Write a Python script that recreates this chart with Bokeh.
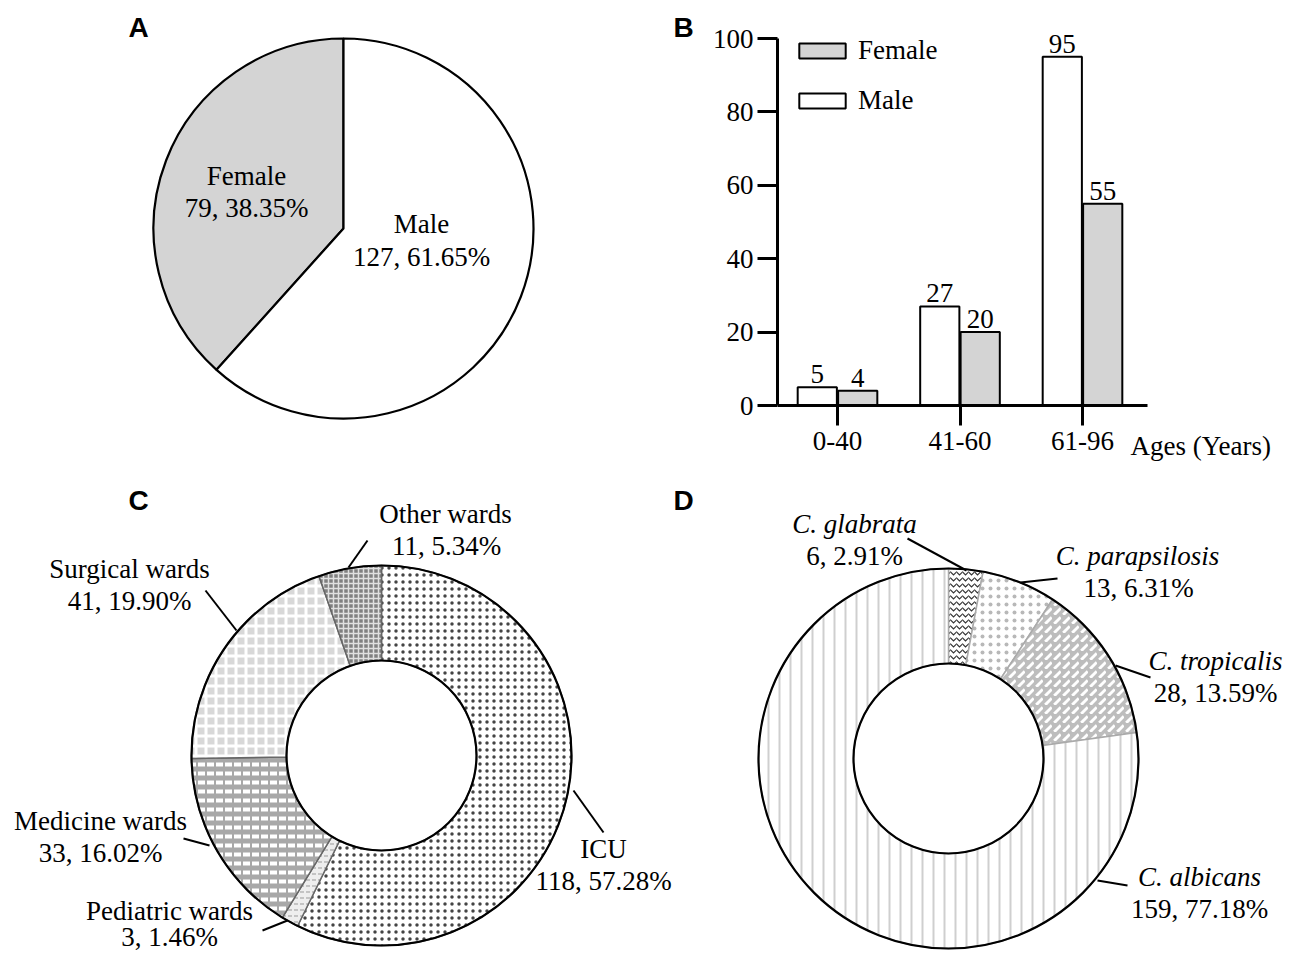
import numpy as np
from bokeh.plotting import figure
from bokeh.models import Range1d, Label, Legend, LegendItem, FixedTicker
from bokeh.layouts import column, row
from bokeh.embed import file_html
from bokeh.resources import INLINE
from bokeh.core.properties import value

# ---------------- data ----------------
sex_labels = ["Female", "Male"]
sex_counts = [79, 127]
sex_pcts = ["38.35%", "61.65%"]

age_groups = ["0-40", "41-60", "61-96"]
male_by_age = [5, 27, 95]
female_by_age = [4, 20, 55]

wards = ["ICU", "Pediatric wards", "Medicine wards", "Surgical wards", "Other wards"]
ward_counts = [118, 3, 33, 41, 11]
ward_pcts = ["57.28%", "1.46%", "16.02%", "19.90%", "5.34%"]

species = ["C. glabrata", "C. parapsilosis", "C. tropicalis", "C. albicans"]
species_counts = [6, 13, 28, 159]
species_pcts = ["2.91%", "6.31%", "13.59%", "77.18%"]

# ---------------- style ----------------
SERIF_NAME = "Liberation Serif"
SANS_NAME = "Liberation Sans"
SERIF = value(SERIF_NAME)
FS = "27px"
LETTER_FS = "28px"

TOP_H, BOT_H = 480, 470
A_W, B_W = 700, 590
C_W, D_W = 674, 616


def panel(ox, oy, W, H):
    p = figure(width=W, height=H, x_range=Range1d(0, W), y_range=Range1d(0, H),
               x_axis_type=None, y_axis_type=None, output_backend="svg",
               toolbar_location=None, min_border=0)
    p.outline_line_color = None
    p.background_fill_color = "white"
    p.border_fill_color = "white"

    def tr(rx, ry):
        return rx - ox, H - (ry - oy)
    return p, tr


def add_texts(p, tr, names, vals, name_pos, val_pos, italic=False):
    nx, ny = zip(*[tr(*q) for q in name_pos])
    vx, vy = zip(*[tr(*q) for q in val_pos])
    p.text(x=list(nx), y=list(ny), text=names, text_font=SERIF, text_font_size=FS,
           text_font_style="italic" if italic else "normal",
           text_align="center", text_baseline="middle", text_color="black")
    p.text(x=list(vx), y=list(vy), text=vals, text_font=SERIF, text_font_size=FS,
           text_align="center", text_baseline="middle", text_color="black")


def add_letter(p, tr, letter, pos):
    x, y = tr(*pos)
    p.add_layout(Label(x=x, y=y, text=letter, text_font=SANS_NAME, text_font_size=LETTER_FS,
                       text_font_style="bold", text_align="center", text_baseline="middle",
                       text_color="black"))


# ---------------- Panel A : pie ----------------
pA, trA = panel(0, 0, A_W, TOP_H)
cxA, cyA = trA(343, 228)
fr = np.array(sex_counts) / np.sum(sex_counts)
cum = np.concatenate([[0], np.cumsum(fr)])
startA = np.pi / 2 + 2 * np.pi * cum[:-1]
endA = np.pi / 2 + 2 * np.pi * cum[1:]
pA.wedge(x=cxA, y=cyA, radius=190, start_angle=startA, end_angle=endA,
         direction="anticlock", fill_color=["#d4d4d4", "white"],
         line_color="black", line_width=2.2)
add_texts(pA, trA, sex_labels, [f"{c}, {q}" for c, q in zip(sex_counts, sex_pcts)],
          [(246, 175), (421, 223)], [(246, 207), (421, 256)])
add_letter(pA, trA, "A", (138, 27))
add_letter(pA, trA, "B", (683, 27))

# ---------------- Panel B : bars ----------------
B_OX = A_W
FRAME_L = 777                       # layout: page x of the y axis
x0_px, unit_px = 837.0, 122.5       # layout: page x of category 0, pixels per category
y0_px, yunit_px = 405.0, 3.67       # layout: page y of value 0, pixels per unit


def bx(rx):
    return (rx - x0_px) / unit_px


def by(ry):
    return (y0_px - ry) / yunit_px


pB = figure(width=B_W, height=TOP_H,
            x_range=Range1d(bx(FRAME_L), bx(B_OX + B_W)),
            y_range=Range1d(by(TOP_H), by(0)),
            output_backend="svg", toolbar_location=None,
            min_border_left=FRAME_L - B_OX, min_border_right=0, min_border_top=0,
            min_border_bottom=0)
pB.outline_line_color = None
pB.grid.visible = False
pB.background_fill_color = "white"
pB.border_fill_color = "white"

idx = np.arange(len(age_groups))
rm = pB.vbar(x=idx - 0.165, top=male_by_age, width=0.32, fill_color="white",
             line_color="black", line_width=2)
rf = pB.vbar(x=idx + 0.165, top=female_by_age, width=0.32, fill_color="#d4d4d4",
             line_color="black", line_width=2)
pB.text(x=idx - 0.165, y=male_by_age, text=[str(v) for v in male_by_age], text_font=SERIF,
        text_font_size=FS, text_align="center", text_baseline="bottom", y_offset=-4,
        text_color="black")
pB.text(x=idx + 0.165, y=female_by_age, text=[str(v) for v in female_by_age], text_font=SERIF,
        text_font_size=FS, text_align="center", text_baseline="bottom", y_offset=-4,
        text_color="black")

pB.xaxis.ticker = FixedTicker(ticks=list(idx))
pB.xaxis.major_label_overrides = {int(i): g for i, g in zip(idx, age_groups)}
pB.xaxis.fixed_location = 0
pB.xaxis.bounds = (bx(FRAME_L), bx(1147))
pB.yaxis.ticker = FixedTicker(ticks=[0, 20, 40, 60, 80, 100])
pB.yaxis.bounds = (0, 100)
for ax in (pB.xaxis, pB.yaxis):
    ax.axis_line_width = 3
    ax.axis_line_color = "black"
    ax.major_tick_line_width = 3
    ax.major_tick_line_color = "black"
    ax.major_tick_out = 20
    ax.major_tick_in = 0
    ax.minor_tick_out = 0
    ax.minor_tick_in = 0
    ax.major_label_text_font = SERIF_NAME
    ax.major_label_text_font_size = FS
    ax.major_label_text_color = "black"
pB.xaxis.major_label_standoff = 6
pB.yaxis.major_label_standoff = 4

legend = Legend(items=[LegendItem(label="Female", renderers=[rf]),
                       LegendItem(label="Male", renderers=[rm])],
                location=(793 - FRAME_L, TOP_H - 116), orientation="vertical",
                glyph_width=58, glyph_height=19, label_height=32, label_standoff=7,
                spacing=18, padding=0, margin=0, border_line_color=None,
                background_fill_alpha=0, label_text_font=SERIF_NAME,
                label_text_font_size=FS, label_text_color="black")
pB.add_layout(legend)

pB.add_layout(Label(x=bx(1130), y=by(445), text="Ages (Years)", text_font=SERIF_NAME,
                    text_font_size=FS, text_align="left", text_baseline="middle",
                    text_color="black"))


# ---------------- donut helper ----------------
def donut(p, cx, cy, counts, styles, sep_color):
    fr = np.array(counts) / np.sum(counts)
    cum = np.concatenate([[0], np.cumsum(fr)])
    st = np.pi / 2 - 2 * np.pi * cum[:-1]
    en = np.pi / 2 - 2 * np.pi * cum[1:]
    for s, e, sty in zip(st, en, styles):
        p.annular_wedge(x=cx, y=cy, inner_radius=95, outer_radius=190, start_angle=s,
                        end_angle=e, direction="clock", line_color=sep_color,
                        line_width=1.5, **sty)
    p.circle(x=[cx, cx], y=[cy, cy], radius=[190, 95], fill_color=None,
             line_color="black", line_width=2.2)


def leaders(p, tr, segs):
    x0, y0, x1, y1 = [], [], [], []
    for (a, b, c, d) in segs:
        u, v = tr(a, b)
        w, z = tr(c, d)
        x0.append(u); y0.append(v); x1.append(w); y1.append(z)
    p.segment(x0=x0, y0=y0, x1=x1, y1=y1, line_color="black", line_width=2)


# ---------------- Panel C ----------------
pC, trC = panel(0, TOP_H, C_W, BOT_H)
cxC, cyC = trC(381, 755)
styles_C = [
    dict(fill_color="white", hatch_pattern="dot", hatch_color="#444444", hatch_scale=7, hatch_weight=1),
    dict(fill_color="#eeeeee", hatch_pattern="horizontal_dash", hatch_color="#999999", hatch_scale=6, hatch_weight=1),
    dict(fill_color="#a8a8a8", hatch_pattern="horizontal_dash", hatch_color="white", hatch_scale=9, hatch_weight=4),
    dict(fill_color="#d8d8d8", hatch_pattern="cross", hatch_color="white", hatch_scale=10, hatch_weight=3),
    dict(fill_color="#808080", hatch_pattern="cross", hatch_color="#e0e0e0", hatch_scale=5, hatch_weight=1.5),
]
donut(pC, cxC, cyC, ward_counts, styles_C, "#666666")
leaders(pC, trC, [(573, 790, 603, 832), (287, 920, 262, 930), (209, 845, 183, 838),
                  (236, 630, 205, 590), (348, 567, 367, 540)])
add_texts(pC, trC, wards, [f"{c}, {q}" for c, q in zip(ward_counts, ward_pcts)],
          [(603, 848), (169, 910), (100, 820), (129, 568), (445, 513)],
          [(603, 880), (169, 936), (100, 852), (129, 600), (446, 545)])
add_letter(pC, trC, "C", (138, 500))

# ---------------- Panel D ----------------
pD, trD = panel(C_W, TOP_H, D_W, BOT_H)
cxD, cyD = trD(948, 758)
styles_D = [
    dict(fill_color="white", hatch_pattern="horizontal_wave", hatch_color="#333333", hatch_scale=6, hatch_weight=1.2),
    dict(fill_color="white", hatch_pattern="dot", hatch_color="#b8b8b8", hatch_scale=8, hatch_weight=1),
    dict(fill_color="#bdbdbd", hatch_pattern="right_diagonal_dash", hatch_color="white", hatch_scale=9, hatch_weight=3),
    dict(fill_color="white", hatch_pattern="vertical_line", hatch_color="#cfcfcf", hatch_scale=11, hatch_weight=2),
]
donut(pD, cxD, cyD, species_counts, styles_D, "#aaaaaa")
leaders(pD, trD, [(966, 570, 907, 538), (1020, 582, 1057, 578), (1115, 665, 1150, 677),
                  (1097, 880, 1127, 885)])
add_texts(pD, trD, species, [f"{c}, {q}" for c, q in zip(species_counts, species_pcts)],
          [(854, 523), (1137, 555), (1215, 660), (1199, 876)],
          [(854, 555), (1138, 587), (1215, 692), (1199, 908)], italic=True)
add_letter(pD, trD, "D", (683, 500))

layout = column(row(pA, pB, spacing=0), row(pC, pD, spacing=0), spacing=0)
open("out.html", "w").write(file_html(layout, INLINE))
